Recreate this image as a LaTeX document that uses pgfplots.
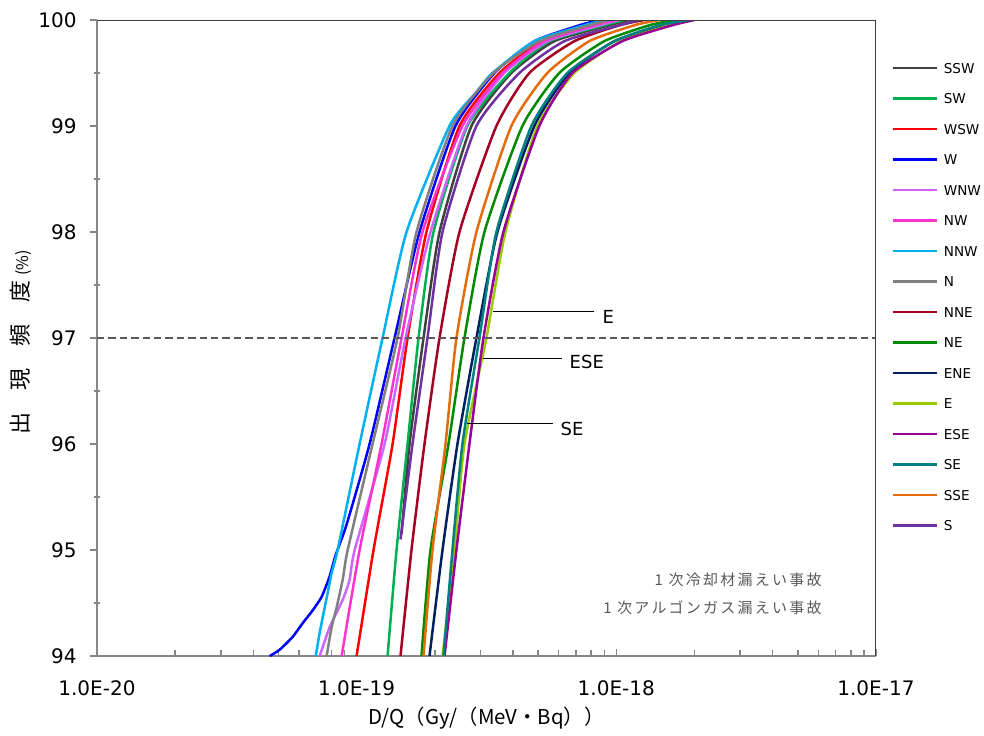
\documentclass[border=0pt]{standalone}
\usepackage{fontspec}
\setmainfont{DejaVu Sans}
\newfontfamily\jp{Noto Sans CJK JP}
\newfontfamily\jpsp[LetterSpace=15]{Noto Sans CJK JP}
\usepackage{pgfplots}
\pgfplotsset{compat=1.18}
\definecolor{cSSW}{HTML}{404040}
\definecolor{cSW}{HTML}{00B050}
\definecolor{cWSW}{HTML}{FF0000}
\definecolor{cW}{HTML}{0000FF}
\definecolor{cWNW}{HTML}{CC66FF}
\definecolor{cNW}{HTML}{FF33CC}
\definecolor{cNNW}{HTML}{00B0F0}
\definecolor{cN}{HTML}{808080}
\definecolor{cNNE}{HTML}{A50021}
\definecolor{cNE}{HTML}{008A00}
\definecolor{cENE}{HTML}{002060}
\definecolor{cE}{HTML}{99CC00}
\definecolor{cESE}{HTML}{990099}
\definecolor{cSE}{HTML}{008080}
\definecolor{cSSE}{HTML}{E46C0A}
\definecolor{cS}{HTML}{7030A0}
\definecolor{axgray}{HTML}{868686}
\definecolor{txtgray}{HTML}{595959}
\definecolor{frame}{HTML}{404040}
\begin{document}
\begin{tikzpicture}
\begin{axis}[
  scale only axis, width=389.5pt, height=318pt,
  xmode=log, xmin=1e-20, xmax=1e-17, ymin=94, ymax=100,
  axis x line*=bottom, axis y line*=left,
  axis line style={draw=axgray, line width=0.75pt},
  xtick={1e-20,1e-19,1e-18,1e-17},
  xticklabels={1.0E-20,1.0E-19,1.0E-18,1.0E-17},
  minor xtick={2e-20,3e-20,4e-20,5e-20,6e-20,7e-20,8e-20,9e-20,2e-19,3e-19,4e-19,5e-19,6e-19,7e-19,8e-19,9e-19,2e-18,3e-18,4e-18,5e-18,6e-18,7e-18,8e-18,9e-18},
  ytick={94,95,96,97,98,99,100},
  minor ytick={94.5,95.5,96.5,97.5,98.5,99.5},
  tick align=inside,
  major tick length=3.5pt, minor tick length=3pt,
  tick style={draw=axgray, line width=0.75pt},
  every major y tick/.append style={xshift=-3.5pt},
  every minor y tick/.append style={xshift=-1.5pt},
  ticklabel style={font=\fontsize{10}{11}\selectfont, inner sep=0pt},
  yticklabel style={xshift=-10pt},
  xticklabel style={yshift=-12.35pt},
  /pgf/number format/assume math mode=true,
  xlabel={\jp D/Q（Gy/（MeV・Bq））},
  xlabel style={at={(axis description cs:0.5,-0.0975)}, anchor=center, font=\fontsize{10.2}{11}\selectfont},
  ylabel={\jp 出　現　頻　度 {\fontsize{8}{9}\selectfont (\%)}},
  ylabel style={at={(axis description cs:-0.0976,0.4935)}, anchor=center, font=\fontsize{11}{12}\selectfont},
  legend cell align=left,
  legend image code/.code={\draw[#1,line width=1.25pt] (0pt,0pt) -- (22pt,0pt);},
  legend style={at={(rel axis cs:1,1)}, anchor=north west, xshift=7.5pt, yshift=-21.4pt,
    draw=none, fill=none, inner sep=0pt, row sep=10.25pt, column sep=3pt,
    font=\fontsize{6.8}{7.5}\selectfont,
    nodes={inner sep=0pt, text height=5pt, text depth=0pt}},
  every axis plot/.append style={line width=1.25pt, line join=round, mark=none, smooth, tension=0.35},
]
\coordinate (O) at (rel axis cs:0,0);
\coordinate (T) at (rel axis cs:1,1);
% SSW
\addplot[cSSW] coordinates {(1.490e-19,95.15) (1.599e-19,96) (1.810e-19,97) (2.086e-19,98) (2.769e-19,99) (3.946e-19,99.5) (5.772e-19,99.8) (9.40e-19,99.95) (1.122e-18,100)};
\addlegendentry{SSW}
% SW
\addplot[cSW] coordinates {(1.316e-19,94) (1.425e-19,95) (1.571e-19,96) (1.732e-19,97) (1.978e-19,98) (2.672e-19,99) (3.877e-19,99.5) (5.523e-19,99.8) (8.99e-19,99.95) (1.073e-18,100)};
\addlegendentry{SW}
% WSW
\addplot[cWSW] coordinates {(1.0e-19,94) (1.162e-19,95) (1.376e-19,96) (1.571e-19,97) (1.858e-19,98) (2.490e-19,99) (3.548e-19,99.5) (5.192e-19,99.8) (8.38e-19,99.95) (9.65e-19,100)};
\addlegendentry{WSW}
% W
\addplot[cW] coordinates {(4.63e-20,94) (5.06e-20,94.06) (5.67e-20,94.18) (6.20e-20,94.31) (6.77e-20,94.43) (7.34e-20,94.56) (7.87e-20,94.75) (8.30e-20,94.95) (9.15e-20,95.24) (1.122e-19,96) (1.400e-19,97) (1.747e-19,98) (2.403e-19,99) (3.395e-19,99.5) (4.837e-19,99.8) (7.21e-19,99.95) (8.61e-19,100)};
\addlegendentry{W}
% WNW
\addplot[cWNW] coordinates {(7.21e-20,94) (7.87e-20,94.27) (8.84e-20,94.53) (9.40e-20,94.72) (9.83e-20,95) (1.282e-19,96) (1.544e-19,97) (1.926e-19,98) (2.649e-19,99) (3.709e-19,99.5) (5.426e-19,99.8) (8.61e-19,99.95) (1.027e-18,100)};
\addlegendentry{WNW}
% NW
\addplot[cNW] coordinates {(8.76e-20,94) (1.027e-19,95) (1.248e-19,96) (1.490e-19,97) (1.794e-19,98) (2.556e-19,99) (3.644e-19,99.5) (5.285e-19,99.8) (8.23e-19,99.95) (9.83e-19,100)};
\addlegendentry{NW}
% NNW
\addplot[cNNW] coordinates {(6.96e-20,94) (7.21e-20,94.22) (7.47e-20,94.41) (7.73e-20,94.59) (8.01e-20,94.78) (8.45e-20,95) (1.027e-19,96) (1.259e-19,97) (1.557e-19,98) (2.279e-19,99) (2.894e-19,99.32) (3.335e-19,99.5) (4.837e-19,99.8) (7.53e-19,99.95) (8.99e-19,100)};
\addlegendentry{NNW}
% N
\addplot[cN] coordinates {(7.67e-20,94) (8.01e-20,94.27) (8.38e-20,94.46) (8.84e-20,94.72) (9.24e-20,95) (1.152e-19,96) (1.438e-19,97) (1.701e-19,98) (2.340e-19,99) (3.365e-19,99.5) (5.056e-19,99.8) (7.87e-19,99.95) (9.40e-19,100)};
\addlegendentry{N}
% NNE
\addplot[cNNE] coordinates {(1.476e-19,94) (1.627e-19,95) (1.826e-19,96) (2.086e-19,97) (2.490e-19,98) (3.455e-19,99) (4.628e-19,99.5) (6.895e-19,99.8) (1.027e-18,99.95) (1.282e-18,100)};
\addlegendentry{NNE}
% NE
\addplot[cNE] coordinates {(1.778e-19,94) (1.926e-19,95) (2.259e-19,96) (2.602e-19,97) (3.107e-19,98) (4.351e-19,99) (6.034e-19,99.5) (8.99e-19,99.8) (1.340e-18,99.95) (1.671e-18,100)};
\addlegendentry{NE}
% ENE
\addplot[cENE] coordinates {(1.909e-19,94) (2.142e-19,95) (2.446e-19,96) (2.894e-19,97) (3.486e-19,98) (4.837e-19,99) (6.595e-19,99.5) (9.83e-19,99.8) (1.530e-18,99.95) (1.909e-18,100)};
\addlegendentry{ENE}
% E
\addplot[cE] coordinates {(2.142e-19,94) (2.382e-19,95) (2.602e-19,96) (3.162e-19,97) (3.742e-19,98) (4.968e-19,99) (6.895e-19,99.5) (1.045e-18,99.8) (1.599e-18,99.95) (1.995e-18,100)};
\addlegendentry{E}
% ESE
\addplot[cESE] coordinates {(2.181e-19,94) (2.424e-19,95) (2.720e-19,96) (3.080e-19,97) (3.676e-19,98) (5.056e-19,99) (6.773e-19,99.5) (1.055e-18,99.8) (1.642e-18,99.95) (1.995e-18,100)};
\addlegendentry{ESE}
% SE
\addplot[cSE] coordinates {(2.161e-19,94) (2.340e-19,95) (2.556e-19,96) (2.972e-19,97) (3.455e-19,98) (4.711e-19,99) (6.479e-19,99.5) (9.83e-19,99.8) (1.464e-18,99.95) (1.909e-18,100)};
\addlegendentry{SE}
% SSE
\addplot[cSSE] coordinates {(1.810e-19,94) (1.960e-19,95) (2.200e-19,96) (2.424e-19,97) (2.894e-19,98) (3.946e-19,99) (5.426e-19,99.5) (7.874e-19,99.8) (1.173e-18,99.95) (1.464e-18,100)};
\addlegendentry{SSE}
% S
\addplot[cS] coordinates {(1.476e-19,95.1) (1.642e-19,96) (1.875e-19,97) (2.142e-19,98) (2.894e-19,99) (4.237e-19,99.5) (6.310e-19,99.8) (1.027e-18,99.95) (1.226e-18,100)};
\addlegendentry{S}
% reference line at 97 %
\draw[txtgray, line width=1pt, dash pattern=on 3.7pt off 2pt] (axis cs:1e-20,97) -- (axis cs:1e-17,97);
% pointers
\draw[black, line width=0.6pt] (axis cs:3.365e-19,97.25) -- (axis cs:8.23e-19,97.25);
\node[anchor=west, inner sep=0pt, font=\fontsize{9}{10}\selectfont] at (axis cs:8.835e-19,97.2) {E};
\draw[black, line width=0.6pt] (axis cs:3.08e-19,96.81) -- (axis cs:6.20e-19,96.81);
\node[anchor=west, inner sep=0pt, font=\fontsize{9}{10}\selectfont] at (axis cs:6.595e-19,96.77) {ESE};
\draw[black, line width=0.6pt] (axis cs:2.672e-19,96.19) -- (axis cs:5.72e-19,96.19);
\node[anchor=west, inner sep=0pt, font=\fontsize{9}{10}\selectfont] at (axis cs:6.09e-19,96.14) {SE};
% notes
\node[anchor=east, inner sep=0pt, text=txtgray, font=\jpsp\fontsize{7.5}{8}\selectfont] at (rel axis cs:0.9307,0.1195) {1 次冷却材漏えい事故};
\node[anchor=east, inner sep=0pt, text=txtgray, font=\jpsp\fontsize{7.5}{8}\selectfont] at (rel axis cs:0.9307,0.0755) {1 次アルゴンガス漏えい事故};
% top and right frame
\draw[frame, line width=1pt] (rel axis cs:0,1) -- (rel axis cs:1,1) -- (rel axis cs:1,0);
\end{axis}
\pgfresetboundingbox
\path ([xshift=-48.5pt,yshift=-39.5pt]O) rectangle ([xshift=54pt,yshift=10pt]T);
\end{tikzpicture}
\end{document}
